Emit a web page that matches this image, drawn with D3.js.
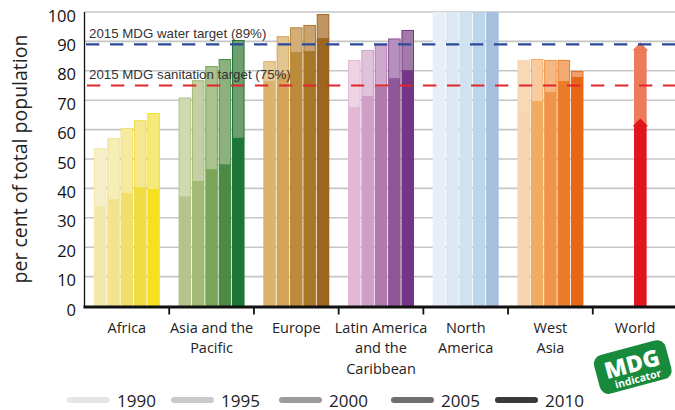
<!DOCTYPE html>
<html><head><meta charset="utf-8">
<script src="https://cdn.jsdelivr.net/npm/d3@7"></script>
<style>body{margin:0;background:#fff} svg{display:block}</style>
</head><body><svg id="chart" width="675" height="410"></svg>
<script>
// ---------- data ----------
const regions = ["Africa","Asia and the Pacific","Europe","Latin America and the Caribbean","North America","West Asia","World"];
const regionLabels = [["Africa"],["Asia and the","Pacific"],["Europe"],["Latin America","and the","Caribbean"],["North","America"],["West","Asia"],["World"]];
const years = ["1990","1995","2000","2005","2010"];
const yTicks = [0,10,20,30,40,50,60,70,80,90,100];

// improved drinking water (top of bar) and sanitation (lower part), % of population
const africaWater        = [53.7, 57.1, 60.5, 63.2, 65.6];
const africaSanitation   = [33.9, 36.3, 38.5, 40.4, 39.7];
const asiaWater          = [70.9, 76.8, 81.6, 84.0, 90.5];
const asiaSanitation     = [37.3, 42.5, 46.5, 48.2, 57.2];
const europeWater        = [83.3, 91.8, 94.8, 95.6, 99.3];
const europeSanitation   = [76.5, 79.0, 86.4, 86.7, 91.1];
const latamWater         = [83.7, 87.1, 88.8, 91.0, 93.9];
const latamSanitation    = [67.7, 71.4, 74.5, 77.5, 80.2];
const namericaWater      = [100, 100, 100, 100, 100];
const namericaSanitation = [100, 100, 100, 100, 100];
const wasiaWater         = [83.7, 84.0, 83.7, 83.7, 79.9];
const wasiaSanitation    = [66.0, 69.7, 72.8, 76.5, 77.9];
const worldWater2010      = 89.7;
const worldSanitation2010 = 63.8;

const waterTarget = 89;
const sanitationTarget = 75;
const legendYears = ["1990","1995","2000","2005","2010"];

// ---------- styles ----------
const lowColors = [
  ["#f2e8a8","#f2e38c","#f2df6a","#f2dc45","#f5e11e"],
  ["#b5c48b","#a2ba74","#78a557","#4b8b45","#1e7538"],
  ["#dab46c","#d2a55a","#bb8a3a","#a87628","#9c6520"],
  ["#e2b8d4","#cea0c8","#b07aac","#8e5898","#743586"],
  ["#e7eef6","#dde8f2","#d0e2f0","#bcd5ea","#a7bfdf"],
  ["#f8d4ae","#f2ab62","#ef9448","#eb7d2a","#e66816"]
];
const highColors = [
  ["#f6f0c9","#f6eeb5","#f5eaa0","#f5e78f","#f6e87c"],
  ["#d1d9b1","#c4d0a3","#aac38f","#8cb07e","#6f9e70"],
  ["#e8cc98","#e2c48e","#d4ae78","#c9a270","#c09564"],
  ["#eed3e5","#e1c2dd","#cda9cd","#b58fbe","#a27aaa"],
  ["#e7eef6","#dde8f2","#d0e2f0","#bcd5ea","#a7bfdf"],
  ["#f9d8b5","#f8cb9e","#f6b783","#f3a96f","#f0a06c"]
];
const legendColors = ["#e6e6e6","#c9c9c9","#9b9b9b","#6f6f6f","#3a3a3a"];

const waterSeries = [africaWater, asiaWater, europeWater, latamWater, namericaWater, wasiaWater];
const sanSeries   = [africaSanitation, asiaSanitation, europeSanitation, latamSanitation, namericaSanitation, wasiaSanitation];

const rows = [];
waterSeries.forEach((ws, r) => {
  years.forEach((yr, i) => rows.push({region: regions[r], ri: r, year: yr, yi: i, water: ws[i], san: sanSeries[r][i]}));
});

// ---------- chart ----------
const svg = d3.select("#chart");
const FONT = "'Open Sans', 'Noto Sans', sans-serif";
const y = d3.scaleLinear().domain([0,100]).range([306,12]);
const x = d3.scaleBand().domain(regions).range([84.5, 677.5]);
const xi = d3.scaleBand().domain(years).range([0, x.bandwidth()]).paddingInner(0.06).paddingOuter(0.70);

// gridlines
svg.append("g").selectAll("line").data(yTicks.filter(d => d > 0)).join("line")
  .attr("x1", 84.5).attr("x2", 675).attr("y1", d => y(d)).attr("y2", d => y(d))
  .attr("stroke", "#c6c6c6").attr("stroke-width", 1.6);

// bars
const bars = svg.append("g");
bars.selectAll("rect.low").data(rows).join("rect").attr("class","low")
  .attr("x", d => x(d.region) + xi(d.year)).attr("width", xi.bandwidth())
  .attr("y", d => y(d.san)).attr("height", d => y(0) - y(d.san))
  .attr("fill", d => lowColors[d.ri][d.yi]);
bars.selectAll("rect.high").data(rows.filter(d => d.water > d.san)).join("rect").attr("class","high")
  .attr("x", d => x(d.region) + xi(d.year) + 0.5).attr("width", xi.bandwidth() - 1)
  .attr("y", d => y(d.water) + 0.5).attr("height", d => y(d.san) - y(d.water))
  .attr("fill", d => highColors[d.ri][d.yi])
  .attr("stroke", d => lowColors[d.ri][d.yi]).attr("stroke-width", 1);

// world arrows
const cx = x("World") + x.bandwidth()/2 + 5.2;
const hw = 6.3;
const ys = y(worldSanitation2010), yw = y(worldWater2010);
svg.append("path")
  .attr("d", `M${cx-hw},${ys+6}L${cx-hw},${yw+8.3}L${cx-hw-1.5},${yw+8.3}L${cx},${yw}L${cx+hw+1.5},${yw+8.3}L${cx+hw},${yw+8.3}L${cx+hw},${ys+6}Z`)
  .attr("fill", "#ee7a5c");
svg.append("path")
  .attr("d", `M${cx-hw},${y(0)}L${cx-hw},${ys+7.7}L${cx-hw-1.5},${ys+7.7}L${cx},${ys}L${cx+hw+1.5},${ys+7.7}L${cx+hw},${ys+7.7}L${cx+hw},${y(0)}Z`)
  .attr("fill", "#e2141c");

// target lines
svg.append("line").attr("x1", 86).attr("x2", 675).attr("y1", y(waterTarget)).attr("y2", y(waterTarget))
  .attr("stroke", "#2a4b9b").attr("stroke-width", 2.2).attr("stroke-dasharray", "13.3 10.7");
svg.append("line").attr("x1", 87).attr("x2", 675).attr("y1", y(sanitationTarget)).attr("y2", y(sanitationTarget))
  .attr("stroke", "#e3242b").attr("stroke-width", 2.2).attr("stroke-dasharray", "13.3 10.7");
svg.append("text").attr("x", 89).attr("y", 38).text(`2015 MDG water target (${waterTarget}%)`)
  .attr("font-family", "'Liberation Sans', Arial, sans-serif").attr("font-size", 13.3).attr("fill", "#333");
svg.append("text").attr("x", 89).attr("y", 78.5).text(`2015 MDG sanitation target (${sanitationTarget}%)`)
  .attr("font-family", "'Liberation Sans', Arial, sans-serif").attr("font-size", 13.3).attr("fill", "#333");

// y axis
const yAxis = svg.append("g").attr("transform", "translate(84.5,0)")
  .call(d3.axisLeft(y).tickValues(yTicks).tickSize(0).tickPadding(8.5));
yAxis.select(".domain").remove();
yAxis.selectAll("text").attr("font-family", FONT).attr("font-size", 16.5).attr("fill", "#111").attr("dy", "0.55em");
svg.append("line").attr("x1", 84.5).attr("x2", 84.5).attr("y1", 12).attr("y2", 307).attr("stroke", "#111").attr("stroke-width", 1.3);

// x axis
svg.append("line").attr("x1", 83.5).attr("x2", 675).attr("y1", 307).attr("y2", 307).attr("stroke", "#111").attr("stroke-width", 2.8);
svg.append("g").selectAll("line").data(regions.slice(1)).join("line")
  .attr("x1", d => x(d)).attr("x2", d => x(d)).attr("y1", 307).attr("y2", 314.5)
  .attr("stroke", "#111").attr("stroke-width", 1.8);
const xl = svg.append("g");
regions.forEach((r, i) => {
  const t = xl.append("text").attr("x", x(r) + x.bandwidth()/2).attr("y", 333)
    .attr("text-anchor", "middle").attr("font-family", FONT).attr("font-size", 14.5).attr("fill", "#222");
  regionLabels[i].forEach((ln, j) => t.append("tspan").attr("x", x(r) + x.bandwidth()/2).attr("dy", j ? 20.3 : 0).text(ln));
});

// y title
svg.append("text").attr("transform", "translate(27,159) rotate(-90)").attr("text-anchor", "middle")
  .attr("font-family", FONT).attr("font-size", 19.5).attr("fill", "#222").text("per cent of total population");

// legend
const legX = [67, 171, 279, 391, 495];
const leg = svg.append("g");
legendYears.forEach((yr, i) => {
  leg.append("line").attr("x1", legX[i] + 3).attr("x2", legX[i] + 40).attr("y1", 400).attr("y2", 400)
    .attr("stroke", legendColors[i]).attr("stroke-width", 6).attr("stroke-linecap", "round");
  leg.append("text").attr("x", legX[i] + 50).attr("y", 406.5).attr("font-family", FONT).attr("font-size", 17)
    .attr("fill", "#222").text(yr);
});

// MDG badge
const badge = svg.append("g").attr("transform", "translate(633,368) rotate(-15)");
badge.append("rect").attr("x", -37).attr("y", -21).attr("width", 74).attr("height", 40).attr("rx", 9).attr("fill", "#178a3c");
badge.append("text").attr("x", 0).attr("y", 4).attr("text-anchor", "middle").attr("font-family", "'Open Sans', sans-serif")
  .attr("font-weight", 800).attr("font-size", 23).attr("fill", "#fff").text("MDG");
badge.append("text").attr("x", 2).attr("y", 15.5).attr("text-anchor", "middle").attr("font-family", "'Open Sans', sans-serif")
  .attr("font-weight", 700).attr("font-size", 10.5).attr("fill", "#fff").text("indicator");
</script></body></html>
